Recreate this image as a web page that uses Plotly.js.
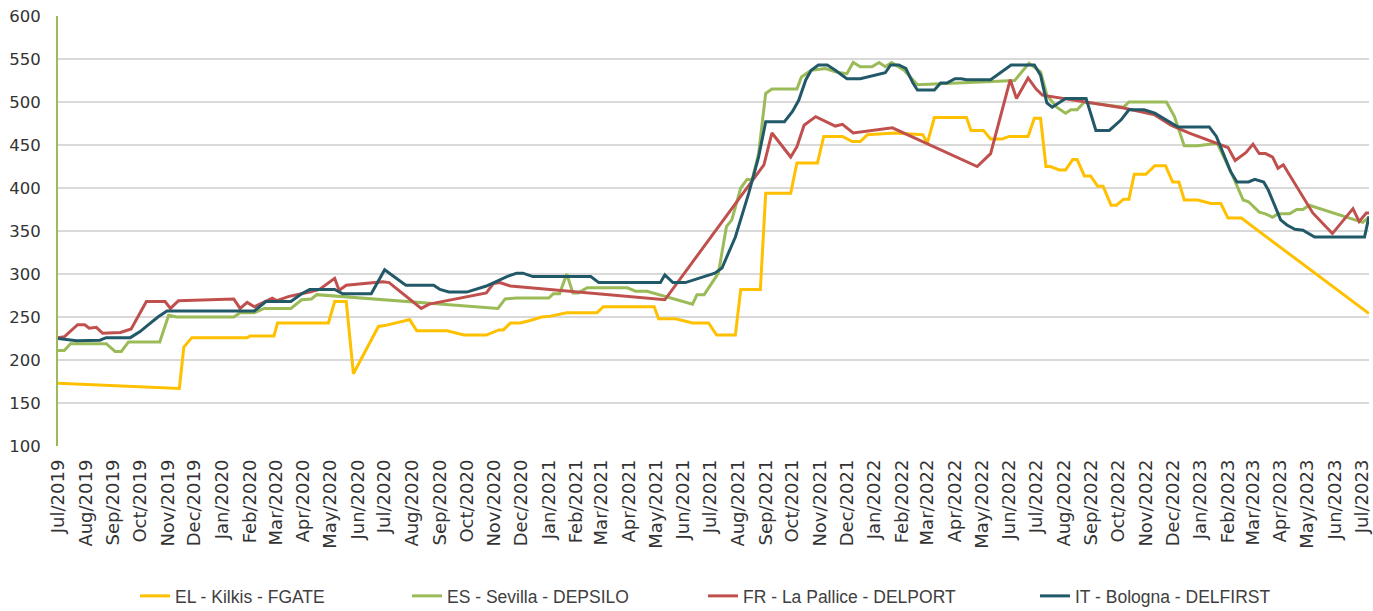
<!DOCTYPE html>
<html>
<head>
<meta charset="utf-8">
<script src="https://cdn.plot.ly/plotly-3.0.1.min.js"></script>
<style>html,body{margin:0;padding:0;background:#fff;}#chart{width:1373px;height:611px;}</style>
</head>
<body>
<div id="chart"></div>
<script>
// ---- Data ----
const seriesNames = ["EL - Kilkis - FGATE", "ES - Sevilla - DEPSILO", "FR - La Pallice - DELPORT", "IT - Bologna - DELFIRST"];

const elDates = ["2019-07-01","2019-11-14","2019-11-19","2019-11-28","2020-01-29","2020-02-01","2020-02-28","2020-03-03","2020-04-29","2020-05-06","2020-05-19","2020-05-27","2020-06-24","2020-07-01","2020-07-25","2020-07-29","2020-08-06","2020-09-09","2020-09-28","2020-10-23","2020-11-06","2020-11-11","2020-11-19","2020-11-30","2020-12-11","2020-12-24","2021-01-03","2021-01-21","2021-02-24","2021-03-03","2021-04-29","2021-05-04","2021-05-23","2021-06-11","2021-06-29","2021-07-08","2021-07-29","2021-08-04","2021-08-26","2021-09-01","2021-09-29","2021-10-06","2021-10-29","2021-11-05","2021-11-26","2021-12-07","2021-12-16","2021-12-24","2022-01-23","2022-02-24","2022-03-01","2022-03-09","2022-04-14","2022-04-19","2022-05-03","2022-05-11","2022-05-24","2022-06-01","2022-06-22","2022-06-29","2022-07-06","2022-07-12","2022-07-17","2022-07-27","2022-08-03","2022-08-11","2022-08-16","2022-08-24","2022-08-31","2022-09-08","2022-09-14","2022-09-23","2022-09-29","2022-10-07","2022-10-13","2022-10-19","2022-11-01","2022-11-11","2022-11-23","2022-12-01","2022-12-08","2022-12-14","2022-12-29","2023-01-13","2023-01-24","2023-02-01","2023-02-16","2023-07-09"];
const elValues = [173,167,215,226,226,228,228,243,243,268,268,184,239,240,246,247,234,234,229,229,235,235,243,243,246,250,251,255,255,262,262,248,248,243,243,229,229,282,282,394,394,429,429,460,460,454,454,462,464,462,452,482,482,467,467,457,457,460,460,481,481,425,425,421,421,433,433,414,414,402,402,380,380,387,387,416,416,426,426,407,407,386,386,382,382,365,365,254];

const esDates = ["2019-07-01","2019-07-08","2019-07-15","2019-08-24","2019-09-03","2019-09-10","2019-09-18","2019-10-23","2019-11-02","2019-11-11","2020-01-14","2020-01-21","2020-02-06","2020-02-17","2020-03-18","2020-03-30","2020-04-10","2020-04-16","2020-11-05","2020-11-13","2020-11-26","2021-01-01","2021-01-06","2021-01-13","2021-01-21","2021-01-28","2021-02-03","2021-02-13","2021-03-30","2021-04-08","2021-04-21","2021-06-11","2021-06-16","2021-06-24","2021-07-10","2021-07-19","2021-07-25","2021-08-04","2021-08-11","2021-08-17","2021-08-24","2021-09-01","2021-09-08","2021-10-06","2021-10-11","2021-10-22","2021-11-07","2021-11-18","2021-12-01","2021-12-08","2021-12-16","2021-12-29","2022-01-06","2022-01-13","2022-01-20","2022-02-03","2022-02-18","2022-03-12","2022-06-07","2022-06-23","2022-07-06","2022-07-13","2022-07-24","2022-08-03","2022-08-09","2022-08-16","2022-08-24","2022-10-07","2022-10-13","2022-11-24","2022-12-03","2022-12-14","2022-12-29","2023-01-20","2023-02-05","2023-02-18","2023-02-24","2023-03-08","2023-03-15","2023-03-23","2023-03-29","2023-04-11","2023-04-19","2023-04-26","2023-05-03","2023-07-02","2023-07-09"];
const esValues = [211,211,219,219,210,210,221,221,252,250,250,255,255,260,260,270,271,276,260,271,272,272,277,277,300,278,278,284,284,280,280,265,276,276,301,355,363,400,410,410,440,510,515,515,529,537,539,535,533,546,541,541,546,541,546,537,520,521,525,545,535,508,494,487,491,491,500,494,500,500,483,449,449,452,417,386,384,372,370,366,370,370,375,375,380,360,366];

const frDates = ["2019-07-01","2019-07-08","2019-07-23","2019-07-31","2019-08-05","2019-08-13","2019-08-20","2019-09-09","2019-09-21","2019-10-08","2019-10-29","2019-11-04","2019-11-13","2020-01-14","2020-01-21","2020-01-29","2020-02-06","2020-02-17","2020-02-26","2020-03-02","2020-03-16","2020-04-08","2020-04-19","2020-05-06","2020-05-11","2020-05-19","2020-06-29","2020-07-06","2020-08-11","2020-08-20","2020-10-23","2020-10-31","2020-11-07","2020-11-19","2021-05-11","2021-08-30","2021-09-08","2021-09-29","2021-10-06","2021-10-14","2021-10-27","2021-11-18","2021-11-26","2021-12-08","2022-01-21","2022-04-26","2022-05-11","2022-06-02","2022-06-09","2022-06-22","2022-07-01","2022-07-08","2022-10-07","2022-11-11","2022-11-29","2022-12-19","2023-01-17","2023-02-01","2023-02-09","2023-02-21","2023-03-01","2023-03-08","2023-03-15","2023-03-23","2023-03-29","2023-04-04","2023-05-07","2023-05-29","2023-06-21","2023-06-28","2023-07-06","2023-07-09"];
const frValues = [226,227,241,241,237,238,231,232,236,268,268,260,269,271,260,267,262,268,272,269,274,279,282,295,281,287,291,290,260,265,278,289,290,286,270,427,464,436,448,473,483,472,474,464,470,425,440,526,504,528,515,508,493,485,473,464,453,447,432,441,451,440,440,436,423,427,371,347,376,361,371,371];

const itDates = ["2019-07-01","2019-07-22","2019-08-17","2019-08-24","2019-09-20","2019-10-01","2019-10-08","2019-10-16","2019-10-21","2019-10-31","2020-02-06","2020-02-19","2020-03-18","2020-03-30","2020-04-08","2020-05-06","2020-05-15","2020-06-16","2020-07-01","2020-07-22","2020-07-25","2020-08-25","2020-09-01","2020-09-11","2020-10-01","2020-10-23","2020-11-15","2020-11-26","2020-12-03","2020-12-14","2021-02-17","2021-02-26","2021-05-06","2021-05-11","2021-05-20","2021-06-03","2021-07-06","2021-07-14","2021-07-29","2021-08-13","2021-08-24","2021-09-01","2021-09-22","2021-10-01","2021-10-08","2021-10-16","2021-10-22","2021-10-30","2021-11-09","2021-11-18","2021-12-01","2021-12-16","2021-12-29","2022-01-13","2022-01-19","2022-01-28","2022-02-05","2022-02-13","2022-02-18","2022-03-09","2022-03-16","2022-03-23","2022-04-01","2022-04-08","2022-04-14","2022-05-11","2022-06-03","2022-06-29","2022-07-06","2022-07-13","2022-07-19","2022-08-03","2022-08-26","2022-09-06","2022-09-21","2022-10-04","2022-10-13","2022-10-30","2022-11-11","2022-12-07","2023-01-11","2023-01-19","2023-02-04","2023-02-11","2023-02-24","2023-03-03","2023-03-13","2023-03-18","2023-04-01","2023-04-08","2023-04-17","2023-04-26","2023-05-09","2023-07-04","2023-07-09"];
const itValues = [225,222.5,223,226,226,233,239,246,250,257,257,268,268,277,282,282,277,277,305,289,287,287,282,279,279,286,297,301,301,297,297,290,290,299,290,290,301,307,343,394,436,477,477,489,502,526,537,543,543,537,527,527,530,534,543,543,539,522,514,514,522,522,527,527,526,526,543,543,531,499,494,504,504,467,467,479,491,491,487,471,471,460,419,407,407,410,407,398,363,357,352,351,343,343,367];

const yTicks = [100,150,200,250,300,350,400,450,500,550,600];
const xRange = ["2019-07-01","2023-07-09"];

const colors = ["#FFC000", "#9BBB59", "#C0504D", "#215968"];
const xs = [elDates, esDates, frDates, itDates];
const ys = [elValues, esValues, frValues, itValues];
const legendIds = ["legend", "legend2", "legend3", "legend4"];

const traces = seriesNames.map((name, i) => ({
  type: "scatter",
  mode: "lines",
  name: name,
  x: xs[i],
  y: ys[i],
  line: {color: colors[i], width: 3},
  legend: legendIds[i],
  hoverinfo: "skip"
}));

const plotL = 58, plotR = 1369, plotB = 446, plotT = 16;
const plotW = plotR - plotL, plotH = plotB - plotT;
const legendTextStarts = [175, 447, 743, 1075];
const legendFont = {family: "Liberation Sans, Arial, sans-serif", size: 17.5, color: "#404040"};

const layout = {
  width: 1373,
  height: 611,
  margin: {l: plotL, r: 1373 - plotR, t: plotT, b: 611 - plotB, pad: 0, autoexpand: false},
  paper_bgcolor: "#ffffff",
  plot_bgcolor: "#ffffff",
  showlegend: true,
  xaxis: {
    type: "date",
    range: xRange,
    dtick: "M1",
    tick0: "2019-07-01",
    tickformat: "%b/%Y",
    tickangle: -90,
    showgrid: false,
    zeroline: false,
    showline: false,
    ticks: "",
    automargin: false,
    ticklabelstandoff: 9,
    ticklabeloverflow: "allow",
    tickfont: {family: "DejaVu Sans, Verdana, sans-serif", size: 18, color: "#333333"},
    fixedrange: true
  },
  yaxis: {
    range: [100, 600],
    tickvals: yTicks,
    ticktext: yTicks.map(String),
    showgrid: true,
    gridcolor: "#d9d9d9",
    gridwidth: 2,
    zeroline: false,
    showline: true,
    linecolor: "#9BBB59",
    linewidth: 2,
    ticks: "",
    automargin: false,
    ticklabelstandoff: 12,
    tickfont: {family: "DejaVu Sans, Verdana, sans-serif", size: 16.5, color: "#333333"},
    fixedrange: true
  },
  hovermode: false
};

legendIds.forEach((id, i) => {
  layout[id] = {
    orientation: "h",
    x: (legendTextStarts[i] - 40 - plotL) / plotW,
    xanchor: "left",
    y: -(596 - plotB) / plotH,
    yanchor: "middle",
    bgcolor: "rgba(0,0,0,0)",
    font: legendFont,
    itemclick: false,
    itemdoubleclick: false
  };
});

Plotly.newPlot("chart", traces, layout, {displayModeBar: false, staticPlot: true});
</script>
</body>
</html>
